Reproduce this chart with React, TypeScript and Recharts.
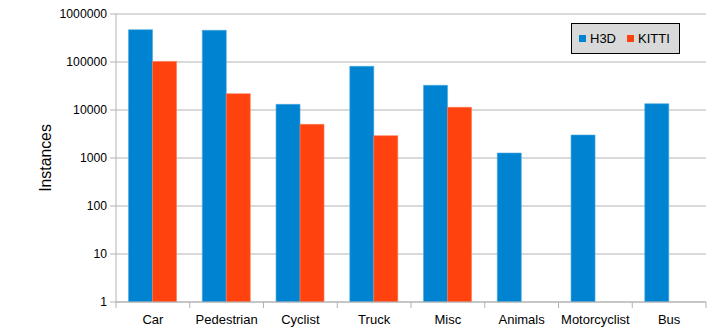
import React from 'react';
import { BarChart, Bar, XAxis, YAxis, CartesianGrid, Legend } from 'recharts';

// object classes and instance counts
const categories = ['Car', 'Pedestrian', 'Cyclist', 'Truck', 'Misc', 'Animals', 'Motorcyclist', 'Bus'];
const h3d = [471000, 457000, 13100, 81300, 32700, 1270, 3010, 13500];
const kitti: (number | null)[] = [103000, 21900, 5020, 2920, 11400, null, null, null];
const yTicks = [1, 10, 100, 1000, 10000, 100000, 1000000];

const data = categories.map((name, i) => ({ name, H3D: h3d[i], KITTI: kitti[i] }));

const BLUE = '#0084d1';
const RED = '#ff420e';
const GRID = '#b3b3b3';

// category label plus tick marks on the band boundaries (LibreOffice style)
const CategoryTick = (props: any) => {
  const { x, y, payload, index, visibleTicksCount } = props;
  const half = payload.offset || 0;
  const top = y - 13;
  const last = index === (visibleTicksCount ?? categories.length) - 1;
  return (
    <g>
      <line x1={x - half} x2={x - half} y1={top} y2={top + 6} stroke={GRID} />
      {last && <line x1={x + half} x2={x + half} y1={top} y2={top + 6} stroke={GRID} />}
      <text x={x} y={y} dy="0.71em" textAnchor="middle" fontSize={13} fill="#000">
        {payload.value}
      </text>
    </g>
  );
};

const LegendBox = () => (
  <div
    style={{
      boxSizing: 'border-box',
      width: 109,
      height: 31,
      background: '#d9d9d9',
      border: '1px solid #000',
      display: 'flex',
      alignItems: 'center',
      paddingLeft: 7,
      fontSize: 13,
      color: '#000',
    }}
  >
    <span style={{ width: 7, height: 7, background: BLUE, display: 'inline-block', marginRight: 4 }} />
    <span style={{ marginRight: 11 }}>H3D</span>
    <span style={{ width: 7, height: 7, background: RED, display: 'inline-block', marginRight: 4 }} />
    <span>KITTI</span>
  </div>
);

export default function App() {
  return (
    <div style={{ position: 'absolute', left: 0, top: 0, width: 720, height: 333, background: '#fff', fontFamily: '"Liberation Sans", Arial, sans-serif' }}>
      <BarChart
        width={720}
        height={333}
        data={data}
        margin={{ top: 14, right: 14, left: 0, bottom: 0 }}
        barGap={0}
        barCategoryGap="17%"
      >
        <CartesianGrid vertical={false} stroke={GRID} />
        <XAxis
          dataKey="name"
          height={31}
          tickLine={false}
          axisLine={{ stroke: GRID }}
          tickSize={6}
          tickMargin={7}
          tick={<CategoryTick />}
          interval={0}
        />
        <YAxis
          scale="log"
          domain={[1, 1000000]}
          ticks={yTicks}
          allowDataOverflow
          width={116}
          tickSize={6}
          tickMargin={3}
          tickLine={{ stroke: GRID }}
          axisLine={{ stroke: GRID }}
          tick={{ fontSize: 12.2, fill: '#000' }}
          label={{ value: 'Instances', angle: -90, position: 'insideLeft', offset: 45, style: { fontSize: 15.8, fill: '#000', textAnchor: 'middle' } }}
        />
        <YAxis yAxisId="r" orientation="right" width={0} tick={false} tickLine={false} axisLine={{ stroke: GRID }} />
        <Legend
          layout="horizontal"
          verticalAlign="middle"
          align="center"
          content={<LegendBox />}
          wrapperStyle={{ top: 23, left: 571, width: 109, height: 31 }}
        />
        <Bar dataKey="H3D" fill={BLUE} stroke="#4aa8e0" strokeWidth={0.6} isAnimationActive={false} />
        <Bar dataKey="KITTI" fill={RED} stroke="#ff7a56" strokeWidth={0.6} isAnimationActive={false} />
      </BarChart>
    </div>
  );
}
